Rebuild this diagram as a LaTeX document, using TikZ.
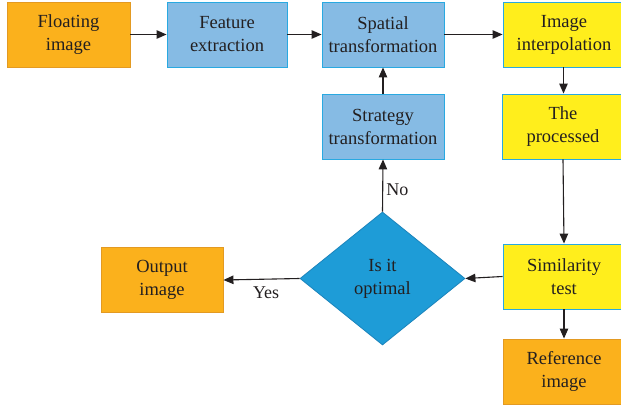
\documentclass[tikz,border=0pt]{standalone}
\usepackage{fontspec}
\setmainfont{LiberationSerif}[Extension=.ttf, UprightFont=*-Regular, BoldFont=*-Bold]
\usetikzlibrary{shapes.geometric,arrows.meta}
\definecolor{orfill}{HTML}{FBB11C}
\definecolor{ordraw}{HTML}{E39A22}
\definecolor{blfill}{HTML}{86BBE4}
\definecolor{bldraw}{HTML}{29A9E1}
\definecolor{yefill}{HTML}{FFEE1C}
\definecolor{dmfill}{HTML}{1E9CD7}
\definecolor{dmdraw}{HTML}{1B84BC}
\definecolor{ink}{HTML}{231F20}
\tikzset{
  x=1pt, y=-1pt,
  box/.style={rectangle, minimum width=122pt, minimum height=65pt, inner sep=0pt,
    align=center, text=ink, font=\rmfamily\fontsize{18.5}{23}\selectfont, line width=0.9pt},
  orbox/.style={box, fill=orfill, draw=ordraw},
  blbox/.style={box, fill=blfill, draw=bldraw},
  yebox/.style={box, fill=yefill, draw=bldraw},
  decide/.style={diamond, minimum width=165pt, minimum height=133pt, inner sep=0pt,
    aspect=1.24, fill=dmfill, draw=dmdraw, line width=0.8pt, align=center, text=ink,
    font=\rmfamily\fontsize{18.5}{23}\selectfont},
  flow/.style={draw=ink, line width=1.1pt, -{Triangle[length=10pt,width=8.5pt]}},
  lbl/.style={text=ink, font=\rmfamily\fontsize{18}{20}\selectfont, inner sep=0pt}
}
\begin{document}
\begin{tikzpicture}
\useasboundingbox (0,0) rectangle (621,409);
\begin{scope}
\clip (0,0) rectangle (621,409);
\node[orbox, minimum width=123pt] (float) at (68.5,34.5) {Floating\\image};
\node[blbox, minimum width=120pt] (feat) at (227,34.5) {Feature\\extraction};
\node[blbox] (spat) at (383,34.5) {Spatial\\transformation};
\node[yebox] (interp) at (564,34.5) {Image\\interpolation};
\node[yebox] (proc) at (563,126.5) {The\\processed};
\node[blbox] (strat) at (383,126.5) {Strategy\\transformation};
\node[decide] (opt) at (382.5,278.5) {Is it\\optimal};
\node[orbox] (out) at (162,280) {Output\\image};
\node[yebox] (sim) at (564,276.5) {Similarity\\test};
\node[orbox] (ref) at (564,371.5) {Reference\\image};
\end{scope}

\draw[flow] (float) -- (feat);
\draw[flow] (feat) -- (spat);
\draw[flow] (spat) -- (interp);
\draw[flow] (interp.south) ++(-0.5,0) coordinate (a1) (a1) -- (a1 |- proc.north);
\draw[flow] (proc.south) -- (sim.north);
\draw[flow] (sim.west) -- (opt.east);
\draw[flow] (opt.north) -- node[lbl, pos=0.42, right=3pt] {No} (strat.south);
\draw[flow] (strat) -- (spat);
\draw[flow] (opt.west) -- node[lbl, pos=0.44, below=7pt] {Yes} (out.east);
\draw[flow] (sim) -- (ref);
\end{tikzpicture}
\end{document}
